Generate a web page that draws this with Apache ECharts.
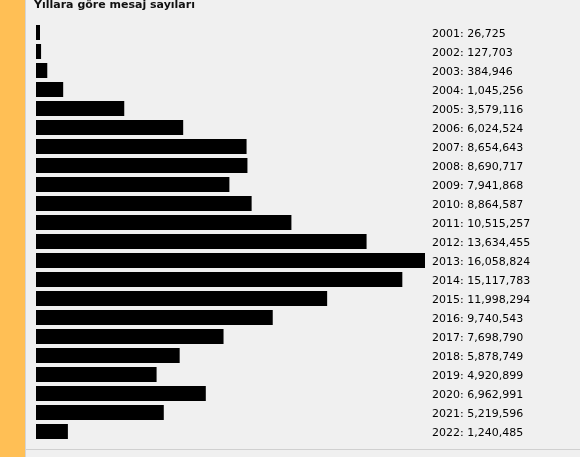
<!DOCTYPE html>
<html>
<head>
<meta charset="utf-8">
<style>
  html, body { margin: 0; padding: 0; background: #f0f0f0; }
  #chart { width: 580px; height: 457px; }
</style>
<script src="https://cdn.jsdelivr.net/npm/echarts@6/dist/echarts.min.js"></script>
</head>
<body>
<div id="chart"></div>
<script>
// Message counts per year
const years = ['2001','2002','2003','2004','2005','2006','2007','2008','2009','2010','2011',
               '2012','2013','2014','2015','2016','2017','2018','2019','2020','2021','2022'];
const messageCounts = [26725, 127703, 384946, 1045256, 3579116, 6024524, 8654643, 8690717,
                       7941868, 8864587, 10515257, 13634455, 16058824, 15117783, 11998294,
                       9740543, 7698790, 5878749, 4920899, 6962991, 5219596, 1240485];
const titleText = 'Yıllara göre mesaj sayıları';

const fmt = n => n.toString().replace(/\B(?=(\d{3})+(?!\d))/g, ',');

const chart = echarts.init(document.getElementById('chart'), null, { renderer: 'canvas' });

chart.setOption({
  backgroundColor: '#f0f0f0',
  animation: false,
  title: {
    text: titleText,
    left: 29,
    top: -5,
    textStyle: { fontFamily: 'DejaVu Sans', fontSize: 11, fontWeight: 'bold', color: '#111' }
  },
  graphic: [
    { type: 'rect', left: 0, top: 0, shape: { width: 25, height: 457 }, style: { fill: '#ffbf55' } },
    { type: 'rect', left: 25, top: 0, shape: { width: 1, height: 457 }, style: { fill: '#d4d4d4' } },
    { type: 'rect', left: 26, top: 449, shape: { width: 554, height: 1 }, style: { fill: '#d0d0d0' } }
  ],
  grid: { left: 36, top: 23, width: 388, height: 418, containLabel: false },
  xAxis: {
    type: 'value',
    min: 0,
    max: 16100000,
    show: false
  },
  yAxis: {
    type: 'category',
    data: years,
    inverse: true,
    show: false
  },
  series: [{
    type: 'bar',
    data: messageCounts,
    barWidth: 15,
    barMinHeight: 2,
    silent: true,
    // a small solid drop to the right gives each bar its end cap
    itemStyle: { color: '#000', shadowColor: '#000', shadowBlur: 0, shadowOffsetX: 2, shadowOffsetY: 0 },
    label: {
      show: true,
      position: [396, 9],
      align: 'left',
      verticalAlign: 'middle',
      fontFamily: 'DejaVu Sans',
      fontSize: 11,
      color: '#000',
      textShadowBlur: 0,
      formatter: p => years[p.dataIndex] + ': ' + fmt(p.value)
    }
  }]
});
</script>
</body>
</html>
